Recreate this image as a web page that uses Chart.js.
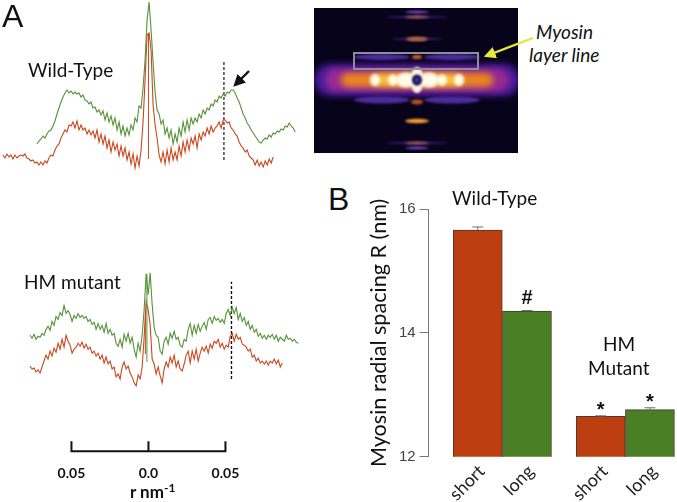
<!DOCTYPE html>
<html>
<head>
<meta charset="utf-8">
<script src="https://cdn.jsdelivr.net/npm/chart.js@4"></script>
<style>
  body { margin: 0; background: #fff; width: 677px; height: 502px; overflow: hidden; position: relative; }
  canvas { position: absolute; }
  #wtTrace, #hmTrace { filter: blur(0.3px); }
  .lbl { position: absolute; font-family: Lato, sans-serif; color: #111; white-space: nowrap; line-height: 1; }
  .big { font-family: "Liberation Sans", sans-serif; font-size: 32px; }
  sup { font-size: 12px; line-height: 0; vertical-align: 6px; }
  svg { position: absolute; left: 0; top: 0; pointer-events: none; }
</style>
</head>
<body>
<canvas id="wtTrace" style="left:0;top:0"></canvas>
<canvas id="hmTrace" style="left:0;top:260px"></canvas>
<canvas id="pattern" style="left:314px;top:8px"></canvas>
<canvas id="spacing" style="left:366px;top:190px"></canvas>

<div class="lbl big" style="left:2px;top:0px">A</div>
<div class="lbl big" style="left:328px;top:183px">B</div>
<div class="lbl" style="left:28px;top:60px;font-size:19px">Wild-Type</div>
<div class="lbl" style="left:24px;top:272px;font-size:19px">HM mutant</div>
<div class="lbl" style="left:452px;top:188px;font-size:19px">Wild-Type</div>
<div class="lbl" style="left:603px;top:334px;font-size:19px">HM</div>
<div class="lbl" style="left:588px;top:358px;font-size:19px">Mutant</div>
<div class="lbl" style="left:536px;top:22px;font-size:19px;font-style:italic">Myosin</div>
<div class="lbl" style="left:529px;top:45px;font-size:19px;font-style:italic">layer line</div>
<div class="lbl" style="left:130px;top:483px;font-size:17px;font-weight:bold">r nm<sup>-1</sup></div>

<svg width="677" height="502">
  <defs>
    <marker id="headK" markerWidth="5" markerHeight="5" refX="4" refY="2.5" orient="auto"><path d="M0,0 L5,2.5 L0,5 Z" fill="#111"/></marker>
    <marker id="headY" markerWidth="5" markerHeight="5" refX="4" refY="2.5" orient="auto"><path d="M0,0 L5,2.5 L0,5 Z" fill="#e6e63c"/></marker>
  </defs>
  <line x1="249" y1="71" x2="235" y2="85" stroke="#111" stroke-width="2.4" marker-end="url(#headK)"/>
  <line x1="533" y1="38" x2="486" y2="56" stroke="#e6e63c" stroke-width="2.4" marker-end="url(#headY)"/>
</svg>

<script>
// r axis: nm^-1, traces sampled every 2 px of the figure
const rStep = 0.0013;
const wtGreenStart = -0.0724;
const wtRedStart = -0.0945;
const hmGreenStart = -0.0769;
const hmRedStart = -0.0769;

const wtGreen = [36,39,41,44,42,46,49,50,54,59, 66,72,78,83,87,90,87,89,86,88,
  86,87,83,85,80,79,76,78,72,73, 68,70,65,69,60,67,58,64,55,62,
  50,58,46,54,44,52,45,55,50,62, 58,74,72,92,120,160,178,150,118,88,
  70,66,56,60,46,52,42,50,36,46, 38,52,44,58,48,60,50,62,56,62,
  58,66,62,70,66,72,70,76,74,80, 78,84,82,86,84,88,87,90,90,87,
  82,78,72,66,62,57,54,50,47,44, 41,38,37,40,42,41,45,43,47,46,
  49,48,51,50,54,53,57,54,52,48];
const wtRed = [25,22,26,23,25,21,25,22,24,25, 24,26,22,21,19,20,17,18,15,18,
  15,19,17,22,25,24,30,34,36,42, 46,50,48,55,54,58,52,59,50,55,
  50,52,46,50,45,49,42,50,38,46, 36,44,32,40,28,38,30,36,24,34,
  24,32,20,28,16,26,12,24,14,30, 58,100,145,147,130,75,55,42,25,18,
  28,16,30,18,32,20,28,20,34,24, 38,28,40,30,42,36,44,32,46,40,
  48,44,52,46,54,48,52,54,58,52, 60,60,57,58,52,50,46,44,38,34,
  32,28,30,24,22,20,15,20,14,18, 13,19,15,21,17,23];
const hmGreen = [124,121,125,120,123,122,126,124,130,133, 129,138,134,143,140,147,144,154,146,149,
  145,138,144,141,146,142,144,141,143,138, 140,135,137,130,136,130,134,127,136,126,
  130,124,126,116,113,120,112,125,118,126, 116,122,110,102,116,108,124,150,186,165,
  187,155,132,124,122,108,105,118,122,115, 126,121,128,120,122,114,112,120,118,130,
  136,124,134,126,135,128,133,137,130,140, 142,136,143,139,141,137,140,136,146,150,
  144,152,146,152,140,146,138,142,134,138, 130,134,127,130,123,126,121,124,120,124,
  122,125,120,124,118,122,120,118,124,120, 121,118,120,117,116];
const hmRed = [93,90,91,87,89,86,92,98,104,100, 108,103,111,107,116,110,120,112,124,118,
  114,106,110,112,116,113,117,111,115,110, 112,106,108,103,106,100,104,96,102,95,
  98,90,92,82,85,80,92,97,90,93, 86,82,76,73,84,80,92,122,158,150,
  135,100,95,85,92,83,76,90,97,92, 102,96,104,92,98,90,88,95,104,108,
  96,108,100,110,98,106,112,108,113,106, 115,111,118,116,120,112,116,110,114,112,
  123,126,118,125,120,122,115,114,112,108, 110,102,104,98,101,96,98,95,98,94,
  98,96,100,95,99,92,96];

const wtSpikeRed = [21, 147];
const hmSpikeGreen = [97, 186];
const hmSpikeRed = [105, 150];
const wtMarkerR = 0.0490;
const wtMarker = [20, 119];
const hmMarkerR = 0.0539;
const hmMarker = [80, 178];

const scaleBarTicks = [-0.05, 0, 0.05];
const scaleBarLabels = ['0.05', '0.0', '0.05'];

const barPositions = [0, 1, 2.5, 3.5];
const barLabels = ['short', 'long', 'short', 'long'];
const barValues = [15.66, 14.35, 12.65, 12.76];
const barErrors = [0.05, 0.01, 0.01, 0.03];
const barColors = ['#bd3f11', '#4a7f25', '#bd3f11', '#4a7f25'];
const barMarks = ['', '#', '*', '*'];

// X-ray pattern reflections, detector units. First four are the equator band
const bandW = [103, 92, 76, 44];
const bandH = [16, 11, 7, 5.5];
const bandColor = ['#4a1a9a', '#9a2a90', '#ea861e', '#fac440'];
const spotX = [-35, 35, 0, -35, 35, 0, 0, 0, 0, 0, 0, 0, 0, 0, 0];
const spotY = [23, 23, 23, -20, -20, 68, 63, 63, 41, 41, -22, -41, -63, -63, -68];
const spotW = [28, 28, 5, 28, 28, 12, 12, 32, 11, 26, 6, 12, 12, 32, 12];
const spotH = [3, 3, 2, 3.5, 3.5, 1.2, 1.2, 0.8, 2, 0.8, 2.5, 2.2, 1.2, 0.8, 1.2];
const spotColor = ['#4c2c9c', '#4c2c9c', '#d0602a', '#4c2c9c', '#4c2c9c',
  '#8050e0', '#f09030', '#4a2498', '#f4962c', '#5a2488', '#c05020', '#f8a030', '#f09030', '#4a2498', '#8050e0'];
const hotX = [-42, 42, -24, 25, -11, 12];
const hotW = [5, 5, 5, 5, 10, 10];
const hotH = [6, 6, 5.5, 5.5, 7.5, 7.5];

const red = '#c9481f';
const green = '#57913a';
const pxH = { responsive: false, animation: false, devicePixelRatio: 1 };

function series(start, vals) {
  return vals.map((v, i) => ({ x: start + i * rStep, y: v }));
}
function vert(r, ys) {
  return ys.map(v => ({ x: r, y: v }));
}
function lineSet(data, color, width, dash) {
  return { data: data, borderColor: color, borderWidth: width, pointRadius: 0, borderDash: dash || [], tension: 0 };
}

function setSize(id, w, h) {
  const c = document.getElementById(id);
  c.width = w; c.height = h;
  c.style.width = w + 'px'; c.style.height = h + 'px';
  return c;
}

new Chart(setSize('wtTrace', 310, 180), {
  type: 'line',
  data: {
    datasets: [
      lineSet(series(wtGreenStart, wtGreen), green, 1.1),
      lineSet(vert(0, wtSpikeRed), red, 1),
      lineSet(series(wtRedStart, wtRed), red, 1.1),
      lineSet(vert(wtMarkerR, wtMarker), '#555', 1.6, [3, 2])
    ]
  },
  options: {
    ...pxH,
    layout: { padding: 0 },
    plugins: { legend: { display: false }, tooltip: { enabled: false } },
    scales: {
      x: { type: 'linear', display: false, min: -0.0964, max: 0.1049 },
      y: { display: false, min: 0, max: 180 }
    }
  }
});

const scaleBar = {
  id: 'scaleBar',
  afterDraw(chart) {
    const { ctx, scales, chartArea } = chart;
    const y = chartArea.bottom;
    ctx.save();
    ctx.strokeStyle = '#111';
    ctx.lineWidth = 2;
    ctx.beginPath();
    ctx.moveTo(scales.x.getPixelForValue(scaleBarTicks[0]) - 1, y);
    ctx.lineTo(scales.x.getPixelForValue(scaleBarTicks[2]) + 1, y);
    scaleBarTicks.forEach(t => {
      const x = scales.x.getPixelForValue(t);
      ctx.moveTo(x, y);
      ctx.lineTo(x, y - 10);
    });
    ctx.stroke();
    ctx.restore();
  }
};

new Chart(setSize('hmTrace', 310, 236), {
  type: 'line',
  data: {
    datasets: [
      lineSet(series(hmGreenStart, hmGreen), green, 1.1),
      lineSet(vert(-0.001, hmSpikeGreen), green, 1),
      lineSet(vert(-0.002, hmSpikeRed), red, 1),
      lineSet(series(hmRedStart, hmRed), red, 1.1),
      lineSet(vert(hmMarkerR, hmMarker), '#111', 1.4, [3, 2])
    ]
  },
  plugins: [scaleBar],
  options: {
    ...pxH,
    layout: { padding: 0 },
    plugins: { legend: { display: false }, tooltip: { enabled: false } },
    scales: {
      x: {
        type: 'linear', min: -0.0964, max: 0.1049,
        afterBuildTicks: s => { s.ticks = scaleBarTicks.map(v => ({ value: v })); },
        grid: { display: false, drawTicks: false },
        border: { display: false },
        ticks: {
          autoSkip: false, maxRotation: 0, padding: 14, color: '#111',
          font: { family: 'Lato', weight: 'bold', size: 14 },
          callback: (v, i) => scaleBarLabels[i]
        }
      },
      y: { display: false, min: 7, max: 200 }
    }
  }
});

const patternDraw = {
  id: 'patternDraw',
  beforeDatasetsDraw(chart) {
    const { ctx, scales, width, height } = chart;
    const px = v => scales.x.getPixelForValue(v);
    const py = v => scales.y.getPixelForValue(v);
    const unit = Math.abs(px(1) - px(0));
    const ell = (x, y, w, h, col) => {
      ctx.fillStyle = col;
      ctx.beginPath();
      ctx.ellipse(px(x), py(y), w * unit, h * unit, 0, 0, Math.PI * 2);
      ctx.fill();
    };
    ctx.save();
    ctx.fillStyle = '#07031a';
    ctx.fillRect(0, 0, width, height);
    ctx.filter = 'blur(3px)';
    bandW.forEach((w, i) => {
      ctx.fillStyle = bandColor[i];
      ctx.beginPath();
      ctx.roundRect(px(-w), py(bandH[i]), 2 * w * unit, 2 * bandH[i] * unit, bandH[i] * unit);
      ctx.fill();
    });
    ctx.filter = 'blur(1.2px)';
    spotX.forEach((x, i) => ell(x, spotY[i], spotW[i], spotH[i], spotColor[i]));
    ctx.filter = 'blur(1.5px)';
    hotX.forEach((x, i) => ell(x, 0, hotW[i], hotH[i], '#fffbe8'));
    ctx.filter = 'blur(0.8px)';
    ell(0, 0, 6.5, 13, '#fff6e0');
    ell(0, 0, 5, 5.5, '#161050');
    ell(0, 0, 2.5, 2.5, '#3434a8');
    ctx.filter = 'none';
    // layer line box
    ctx.strokeStyle = '#8d8d9c';
    ctx.lineWidth = 2;
    ctx.strokeRect(px(-63), py(27), 124 * unit, 16 * unit);
    ctx.restore();
  }
};

new Chart(setSize('pattern', 204, 145), {
  type: 'scatter',
  data: { datasets: [{ data: spotX.map((x, i) => ({ x: x, y: spotY[i] })), pointRadius: 0 }] },
  plugins: [patternDraw],
  options: {
    ...pxH,
    layout: { padding: 0 },
    plugins: { legend: { display: false }, tooltip: { enabled: false } },
    scales: {
      x: { type: 'linear', display: false, min: -103, max: 101 },
      y: { display: false, min: -73, max: 72 }
    }
  }
});

const barExtras = {
  id: 'barExtras',
  afterDatasetsDraw(chart) {
    const { ctx, scales } = chart;
    ctx.save();
    barPositions.forEach((p, i) => {
      const x = scales.x.getPixelForValue(p);
      const top = scales.y.getPixelForValue(barValues[i] + barErrors[i]);
      const base = scales.y.getPixelForValue(barValues[i]);
      ctx.strokeStyle = '#6e6e6e';
      ctx.lineWidth = 1;
      ctx.beginPath();
      ctx.moveTo(x, base); ctx.lineTo(x, top);
      ctx.moveTo(x - 5.5, top); ctx.lineTo(x + 5.5, top);
      ctx.stroke();
      if (barMarks[i]) {
        ctx.fillStyle = '#111';
        ctx.textAlign = 'center';
        ctx.textBaseline = 'alphabetic';
        ctx.font = 'bold 20px "Liberation Sans"';
        ctx.fillText(barMarks[i], x, top - (barMarks[i] === '#' ? 7 : 0));
      }
    });
    ctx.restore();
  }
};

new Chart(setSize('spacing', 311, 319), {
  type: 'bar',
  data: {
    datasets: [{
      data: barPositions.map((p, i) => ({ x: p, y: barValues[i] })),
      backgroundColor: barColors,
      borderColor: '#4a3a2a',
      borderWidth: 1,
      barThickness: 49
    }]
  },
  plugins: [barExtras],
  options: {
    ...pxH,
    layout: { padding: { top: 19, right: 1 } },
    plugins: { legend: { display: false }, tooltip: { enabled: false } },
    scales: {
      x: {
        type: 'linear', min: -1, max: 4.03, offset: false,
        afterBuildTicks: s => { s.ticks = barPositions.map(v => ({ value: v })); },
        grid: { display: false, drawTicks: false },
        border: { display: false },
        ticks: {
          autoSkip: false, minRotation: 45, maxRotation: 45, padding: 4, labelOffset: 4,
          color: '#222', font: { family: 'Lato', size: 18 },
          callback: (v, i) => barLabels[i]
        }
      },
      y: {
        min: 12, max: 16,
        afterBuildTicks: s => { s.ticks = [12, 14, 16].map(v => ({ value: v })); },
        grid: { drawOnChartArea: false, tickLength: 9, color: '#777' },
        border: { color: '#777' },
        ticks: { color: '#444', padding: 4, font: { family: 'Liberation Sans', size: 15 } },
        title: {
          display: true, text: 'Myosin radial spacing R (nm)', color: '#111',
          font: { family: 'Lato', size: 21.6 }, padding: { top: 0, bottom: 3 }
        }
      }
    }
  }
});
</script>
</body>
</html>
